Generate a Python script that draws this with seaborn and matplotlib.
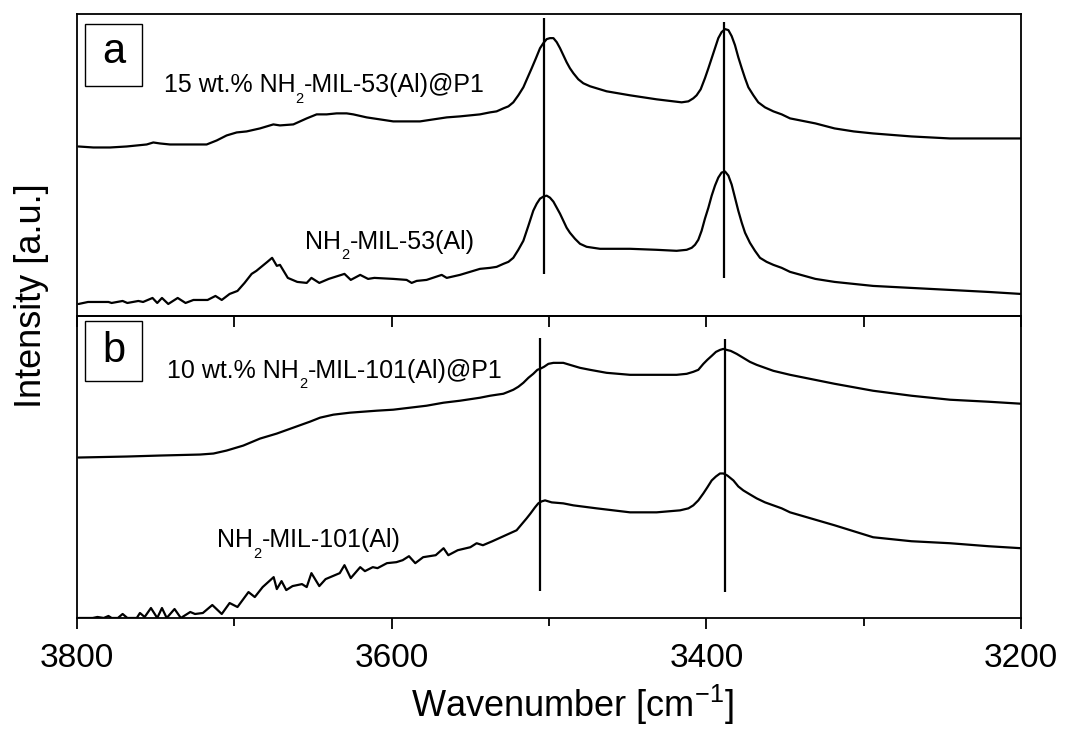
import numpy as np
import pandas as pd
import matplotlib
matplotlib.use("Agg")
import matplotlib.pyplot as plt
from matplotlib.patches import Rectangle
import seaborn as sns

# ---------------- spectra (wavenumber in cm^-1, intensity in a.u.) ----------------
# panel a: 15 wt.% NH2-MIL-53(Al)@P1
wn_a1 = [3799.1, 3789.6, 3779.0, 3768.4, 3755.7, 3751.5, 3747.2, 3740.9, 3734.5, 3726.1,
         3717.6, 3711.2, 3704.9, 3698.5, 3692.2, 3683.7, 3675.2, 3671.0, 3662.5, 3654.0,
         3647.7, 3641.3, 3635.0, 3628.6, 3624.4, 3615.9, 3607.4, 3599.0, 3590.5, 3582.0,
         3573.5, 3565.0, 3556.6, 3543.9,
         3537.5, 3533.3, 3529.0, 3525.8, 3522.7, 3519.5, 3516.3, 3513.8, 3511.0, 3508.3,
         3505.7, 3503.6, 3501.5, 3499.4, 3497.2, 3495.1, 3493.0, 3490.9, 3488.8, 3486.7,
         3484.5, 3481.4, 3478.2, 3473.9, 3463.4, 3448.5, 3431.6, 3421.0, 3415.7, 3411.4,
         3408.3, 3406.2, 3403.6, 3400.9, 3398.7, 3396.6, 3394.5, 3392.4, 3390.3, 3388.1,
         3386.0, 3383.9, 3381.8, 3379.7, 3377.5, 3375.4, 3373.3, 3370.1, 3367.0, 3362.7,
         3357.4, 3352.1, 3346.8,
         3330.7, 3318.5, 3306.3, 3294.0, 3269.6, 3245.1, 3220.7, 3200.0]
int_a1 = [1.69, 1.68, 1.68, 1.69, 1.71, 1.73, 1.72, 1.71, 1.71, 1.71,
          1.71, 1.75, 1.80, 1.83, 1.84, 1.87, 1.91, 1.90, 1.91, 1.97,
          2.01, 2.01, 2.02, 2.02, 2.01, 1.98, 1.96, 1.94, 1.94, 1.94,
          1.96, 1.98, 1.99, 2.01,
          2.03, 2.04, 2.07, 2.09, 2.13, 2.20, 2.28, 2.37, 2.47, 2.57,
          2.67, 2.72, 2.76, 2.77, 2.77, 2.73, 2.67, 2.60, 2.53, 2.47,
          2.42, 2.36, 2.32, 2.29, 2.24, 2.20, 2.16, 2.14, 2.13, 2.14,
          2.17, 2.20, 2.26, 2.37, 2.47, 2.57, 2.67, 2.77, 2.83, 2.86,
          2.85, 2.79, 2.70, 2.58, 2.47, 2.37, 2.28, 2.20, 2.13, 2.08,
          2.04, 2.01, 1.97,
          1.92, 1.87, 1.84, 1.82, 1.79, 1.77, 1.77, 1.77]

# panel a: NH2-MIL-53(Al)
wn_a2 = [3799, 3793, 3780, 3778, 3771, 3768, 3761, 3758, 3752, 3749,
         3746, 3742, 3736, 3731, 3726, 3717, 3712, 3708, 3703, 3698,
         3693.5, 3689, 3686, 3679, 3676, 3673, 3671, 3666, 3660, 3654,
         3651, 3646, 3640, 3630, 3626, 3620, 3615, 3611,
         3599.0, 3590.5, 3587.3, 3584.1, 3577.8, 3568.2, 3565.0, 3556.6, 3543.9,
         3537.5, 3533.3, 3529.0, 3525.8, 3522.7, 3519.5, 3516.3, 3513.1, 3510.0, 3507.8,
         3505.7, 3503.6, 3501.5, 3499.4, 3497.2, 3495.1, 3493.0, 3490.9, 3488.8, 3486.7,
         3483.5, 3480.3, 3476.1, 3467.6, 3448.5, 3431.6, 3418.9, 3412.5, 3409.3, 3407.2,
         3405.1, 3403.0, 3400.9, 3398.7, 3396.6, 3394.5, 3392.4, 3390.3, 3388.1, 3386.0,
         3383.9, 3381.8, 3379.7, 3377.5, 3375.4, 3372.3, 3369.1, 3365.9, 3361.7, 3357.4,
         3352.1, 3346.8,
         3330.7, 3318.5, 3306.3, 3294.0, 3269.6, 3245.1, 3220.7, 3200.0]
int_a2 = [0.12, 0.14, 0.14, 0.13, 0.15, 0.13, 0.15, 0.14, 0.18, 0.13,
          0.18, 0.12, 0.18, 0.13, 0.16, 0.16, 0.20, 0.16, 0.22, 0.25,
          0.33, 0.42, 0.45, 0.54, 0.58, 0.50, 0.51, 0.38, 0.34, 0.33,
          0.38, 0.33, 0.37, 0.42, 0.36, 0.41, 0.37, 0.38,
          0.37, 0.36, 0.33, 0.35, 0.36, 0.41, 0.38, 0.41, 0.47,
          0.48, 0.49, 0.52, 0.54, 0.58, 0.66, 0.75, 0.90, 1.05, 1.12,
          1.17, 1.19, 1.20, 1.18, 1.14, 1.08, 1.02, 0.95, 0.88, 0.83,
          0.77, 0.72, 0.69, 0.67, 0.67, 0.66, 0.65, 0.66, 0.68, 0.71,
          0.76, 0.85, 0.97, 1.08, 1.20, 1.30, 1.38, 1.43, 1.44, 1.40,
          1.31, 1.18, 1.05, 0.93, 0.83, 0.73, 0.65, 0.58, 0.54, 0.51,
          0.48, 0.44,
          0.37, 0.34, 0.32, 0.30, 0.28, 0.26, 0.24, 0.22]

# panel b: 10 wt.% NH2-MIL-101(Al)@P1
wn_b1 = [3799.1, 3768.4, 3747.2, 3721.8, 3713.3, 3704.9, 3694.3, 3683.7, 3673.1, 3662.5,
         3651.9, 3645.5, 3637.1, 3626.5, 3609.5, 3599.0, 3588.4, 3577.8, 3567.1, 3556.6,
         3543.9,
         3537.5, 3533.3, 3529.0, 3525.8, 3522.7, 3519.5, 3516.3, 3513.1, 3510.0, 3507.4,
         3505.7, 3503.2, 3500.4, 3497.2, 3494.1, 3490.9, 3486.7, 3480.3, 3473.9, 3463.4,
         3448.5, 3431.6, 3418.9, 3412.5, 3408.3, 3405.1, 3401.9, 3399.4, 3396.6, 3393.9,
         3391.3, 3389.2, 3387.1, 3384.5, 3380.7, 3376.5, 3372.3, 3368.0, 3362.7, 3357.4,
         3352.1, 3346.8,
         3318.5, 3294.0, 3269.6, 3245.1, 3220.7, 3200.0]
int_b1 = [1.61, 1.62, 1.63, 1.64, 1.65, 1.68, 1.73, 1.80, 1.85, 1.91,
          1.97, 2.01, 2.04, 2.06, 2.08, 2.09, 2.11, 2.13, 2.16, 2.18,
          2.21,
          2.23, 2.24, 2.25, 2.27, 2.29, 2.32, 2.36, 2.41, 2.45, 2.49,
          2.50, 2.52, 2.55, 2.56, 2.56, 2.56, 2.54, 2.51, 2.49, 2.46,
          2.44, 2.44, 2.44, 2.45, 2.47, 2.49, 2.55, 2.59, 2.63, 2.67,
          2.69, 2.70, 2.69, 2.68, 2.65, 2.61, 2.57, 2.54, 2.51, 2.48,
          2.46, 2.44,
          2.35, 2.28, 2.23, 2.19, 2.17, 2.15]

# panel b: NH2-MIL-101(Al)
wn_b2 = [3799, 3790, 3787, 3783, 3780, 3778, 3774, 3771, 3768, 3762,
         3760, 3757, 3753, 3749, 3746, 3743, 3738, 3734, 3728, 3725,
         3720, 3714, 3708, 3703, 3698, 3691, 3687, 3682, 3675, 3673,
         3670, 3667, 3663, 3657, 3654, 3651, 3646, 3642, 3633, 3630,
         3626, 3620, 3617, 3612, 3609, 3603, 3597, 3593, 3589, 3585,
         3580, 3572, 3567, 3564, 3558, 3550, 3546, 3542, 3536, 3529,
         3522,
         3520.6, 3517.4, 3514.2, 3511.7, 3508.9, 3506.8, 3504.7, 3502.5, 3498.3, 3490.9,
         3484.5, 3469.7, 3448.5, 3445.3, 3431.6, 3416.7, 3411.4, 3408.3, 3405.1, 3401.9,
         3399.4, 3396.6, 3393.9, 3391.3, 3389.2, 3386.7, 3382.8, 3379.7, 3376.5, 3372.3,
         3368.0, 3362.7, 3357.4, 3352.1, 3346.8,
         3318.5, 3294.0, 3281.8, 3269.6, 3245.1, 3220.7, 3200.0]
int_b2 = [0.00, 0.00, 0.01, 0.00, 0.02, 0.00, 0.00, 0.04, 0.00, 0.00,
          0.05, 0.01, 0.10, 0.00, 0.10, 0.00, 0.09, 0.00, 0.06, 0.04,
          0.05, 0.13, 0.04, 0.15, 0.11, 0.26, 0.21, 0.31, 0.41, 0.29,
          0.37, 0.28, 0.32, 0.34, 0.31, 0.45, 0.32, 0.39, 0.45, 0.53,
          0.40, 0.51, 0.47, 0.51, 0.50, 0.55, 0.56, 0.58, 0.62, 0.55,
          0.61, 0.63, 0.70, 0.63, 0.68, 0.71, 0.75, 0.73, 0.77, 0.82,
          0.87,
          0.88, 0.94, 1.00, 1.05, 1.11, 1.15, 1.17, 1.18, 1.16, 1.15,
          1.13, 1.10, 1.06, 1.06, 1.06, 1.08, 1.10, 1.13, 1.18, 1.25,
          1.31, 1.38, 1.42, 1.45, 1.45, 1.43, 1.38, 1.32, 1.28, 1.24,
          1.20, 1.16, 1.13, 1.10, 1.06,
          0.93, 0.81, 0.79, 0.77, 0.75, 0.72, 0.70]

# reference band positions (cm^-1)
bands_a = [3503, 3389]
bands_b = [3506, 3388]

# sample names, split around the subscript "2" of NH2
labels_a = [("15 wt.% NH", "2", "-MIL-53(Al)@P1"), ("NH", "2", "-MIL-53(Al)")]
labels_b = [("10 wt.% NH", "2", "-MIL-101(Al)@P1"), ("NH", "2", "-MIL-101(Al)")]
panel_tags = ["a", "b"]
major_ticks = [3800, 3600, 3400, 3200]
minor_ticks = [3700, 3500, 3300]

# ---------------- style ----------------
sns.set_style("ticks")
plt.rcParams["font.family"] = ["Liberation Sans", "DejaVu Sans"]
plt.rcParams["mathtext.default"] = "regular"
plt.rcParams["axes.linewidth"] = 1.3
plt.rcParams["axes.edgecolor"] = "black"
for key in ("text.color", "axes.labelcolor", "xtick.color", "ytick.color"):
    plt.rcParams[key] = "black"

fig, (ax_a, ax_b) = plt.subplots(2, 1, sharex=True, figsize=(10.65, 7.4), dpi=100)
fig.subplots_adjust(left=0.0723, right=0.9587, top=0.981, bottom=0.1649, hspace=0)

line_kw = dict(color="black", linewidth=1.6, sort=False, estimator=None, legend=False)

for ax, spectra in ((ax_a, [(wn_a1, int_a1), (wn_a2, int_a2)]),
                    (ax_b, [(wn_b1, int_b1), (wn_b2, int_b2)])):
    for wn, inten in spectra:
        df = pd.DataFrame({"wavenumber": wn, "intensity": inten})
        sns.lineplot(data=df, x="wavenumber", y="intensity", ax=ax, **line_kw)
    ax.set_xlabel("")
    ax.set_ylabel("")
    ax.set_yticks([])

ax_a.set_xlim(3800, 3200)
ax_a.set_ylim(0, 3.01)
ax_b.set_ylim(0, 3.03)

# band markers
ax_a.vlines(bands_a[0], 0.42, 2.97, color="black", linewidth=1.6)
ax_a.vlines(bands_a[1], 0.38, 2.93, color="black", linewidth=1.6)
ax_b.vlines(bands_b[0], 0.27, 2.81, color="black", linewidth=1.6)
ax_b.vlines(bands_b[1], 0.26, 2.80, color="black", linewidth=1.6)


def sample_label(ax, x, y, parts, size=18, sub_size=10.5):
    """Write 'head', a lowered small subscript, then 'tail' on one baseline."""
    head, sub, tail = parts
    t_head = ax.text(x, y, head, fontsize=size, ha="left", va="baseline")
    t_sub = ax.annotate(sub, xy=(1, 0), xycoords=t_head, xytext=(0.4, -6.0),
                        textcoords="offset points", fontsize=sub_size,
                        ha="left", va="bottom")
    ax.annotate(tail, xy=(1, 0), xycoords=(t_sub, t_head), xytext=(0.2, 0),
                textcoords="offset points", fontsize=size, ha="left", va="bottom")


sample_label(ax_a, 3745, 2.23, labels_a[0])
sample_label(ax_a, 3655, 0.67, labels_a[1])
sample_label(ax_b, 3743, 2.41, labels_b[0])
sample_label(ax_b, 3711, 0.71, labels_b[1])

# boxed panel tags
for ax, tag, (y0, h, yc) in ((ax_a, panel_tags[0], (0.761, 0.206, 0.875)),
                             (ax_b, panel_tags[1], (0.785, 0.198, 0.885))):
    ax.add_patch(Rectangle((0.0085, y0), 0.0604, h, transform=ax.transAxes,
                           fill=False, edgecolor="black", linewidth=1.0))
    ax.text(0.0387, yc, tag, transform=ax.transAxes, fontsize=30,
            ha="center", va="center")

# ticks: none on panel a; panel b bottom outward, top inward
ax_a.tick_params(axis="x", which="both", length=0, labelbottom=False)
ax_b.set_xticks(major_ticks)
ax_b.set_xticks(minor_ticks, minor=True)
ax_b.set_xticklabels([str(t) for t in major_ticks])
ax_b.tick_params(axis="x", which="major", direction="out", length=8, width=1.3,
                 labelsize=24, pad=10, bottom=True, top=False)
ax_b.tick_params(axis="x", which="minor", direction="out", length=6, width=1.3,
                 bottom=True, top=False)
sec = ax_b.secondary_xaxis("top")
sec.set_xticks(major_ticks + minor_ticks)
sec.tick_params(axis="x", direction="in", length=8, width=1.3, labeltop=False)

fig.text(0.030, 0.600, "Intensity [a.u.]", rotation=90, fontsize=26,
         ha="center", va="center")
fig.text(0.537, 0.047, "Wavenumber [cm$^{-1}$]", fontsize=26,
         ha="center", va="center")

fig.savefig("out.png", dpi=100, facecolor="white")
